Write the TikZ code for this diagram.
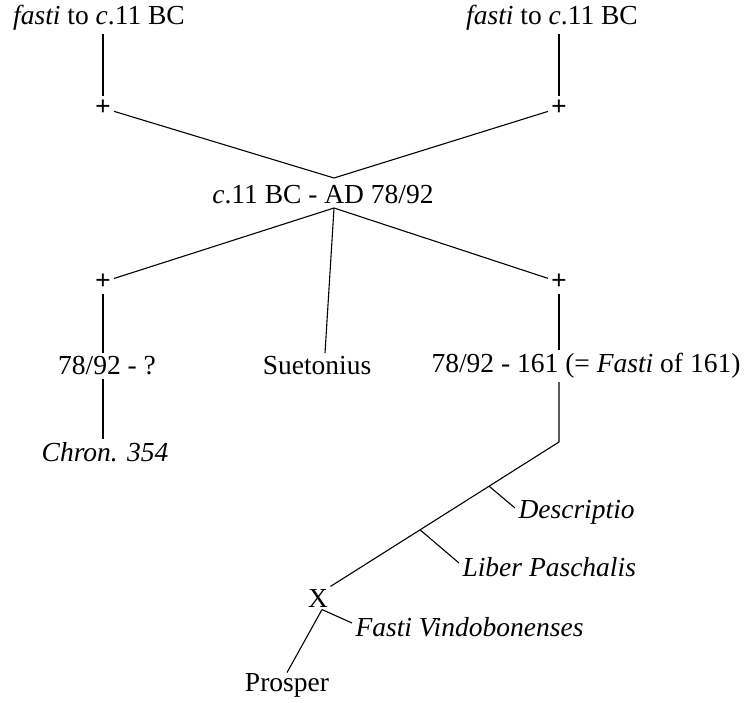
\documentclass[tikz,border=0pt]{standalone}
\usepackage{fontspec}
\setmainfont{Liberation Serif}
\usetikzlibrary{calc}

\begin{document}
\begin{tikzpicture}[x=1pt,y=-1pt,line width=1.1pt,
	font=\fontsize{27.5}{33}\selectfont,
	plus/.style={circle,inner sep=0pt,minimum size=22pt,font=\fontsize{27.5}{33}\selectfont\bfseries},
	lbl/.style={inner sep=3pt},
	stem/.style={line width=1.8pt}]
	\useasboundingbox (0,0) rectangle (746,703);
	\node[lbl] (fastiA) at (99,18) {\textit{fasti} to \textit{c}.11 BC};
	\node[lbl] (fastiB) at (552,18) {\textit{fasti} to \textit{c}.11 BC};
	\node[plus] (crossA) at (103,108) {+};
	\node[plus] (crossB) at (559,108) {+};
	\node[lbl] (common) at (323,195) {\textit{c}.11 BC - AD 78/92};
	\coordinate (meetA) at (334,178);
	\coordinate (meetB) at (334,208);
	\node[plus] (crossC) at (103,282) {+};
	\node[plus] (crossD) at (559,282) {+};
	\node[lbl] (open) at (107,366) {78/92 - ?};
	\node[lbl] (suet) at (317,366) {Suetonius};
	\node[lbl] (fasti161) at (586,366) {78/92 - 161 (= \textit{Fasti} of 161)};
	\node[lbl] (chron) at (105,452) {\textit{Chron. 354}};
	\coordinate (bend) at (559,442);
	\node[inner sep=2pt] (lost) at (318,598) {X};
	\coordinate (tickA) at ($(bend)!0.306!(lost.north east)$);
	\coordinate (tickB) at ($(bend)!0.608!(lost.north east)$);
	\node[lbl,anchor=west] (descr) at (515,512) {\textit{Descriptio}};
	\node[lbl,anchor=west] (paschal) at (459,567) {\textit{Liber Paschalis}};
	\node[lbl,anchor=west] (vindob) at (352,627) {\textit{Fasti Vindobonenses}};
	\node[inner sep=0pt] (prosper) at (287,685) {Prosper};

	\draw[stem] (fastiA.south -| crossA) -- (crossA);
	\draw[stem] (fastiB.south -| crossB) -- (crossB);
	\draw (crossA) -- (meetA) -- (crossB);
	\draw (crossC) -- (meetB) -- (crossD);
	\draw (meetB) -- ([xshift=8pt]suet.north);
	\draw (crossC) -- (crossC |- open.north);
	\draw (crossC |- open.south) -- (crossC |- chron.north);
	\draw (crossD) -- (crossD |- fasti161.north);
	\draw (crossD |- fasti161.south) -- (bend) -- (lost.north east);
	\draw (tickA) -- ([yshift=4pt]descr.west);
	\draw (tickB) -- ([yshift=4pt]paschal.west);
	\draw ([xshift=4pt]lost.south) -- ([yshift=4pt]vindob.west);
	\draw ([xshift=4pt]lost.south) -- (prosper.north);
\end{tikzpicture}
\end{document}
